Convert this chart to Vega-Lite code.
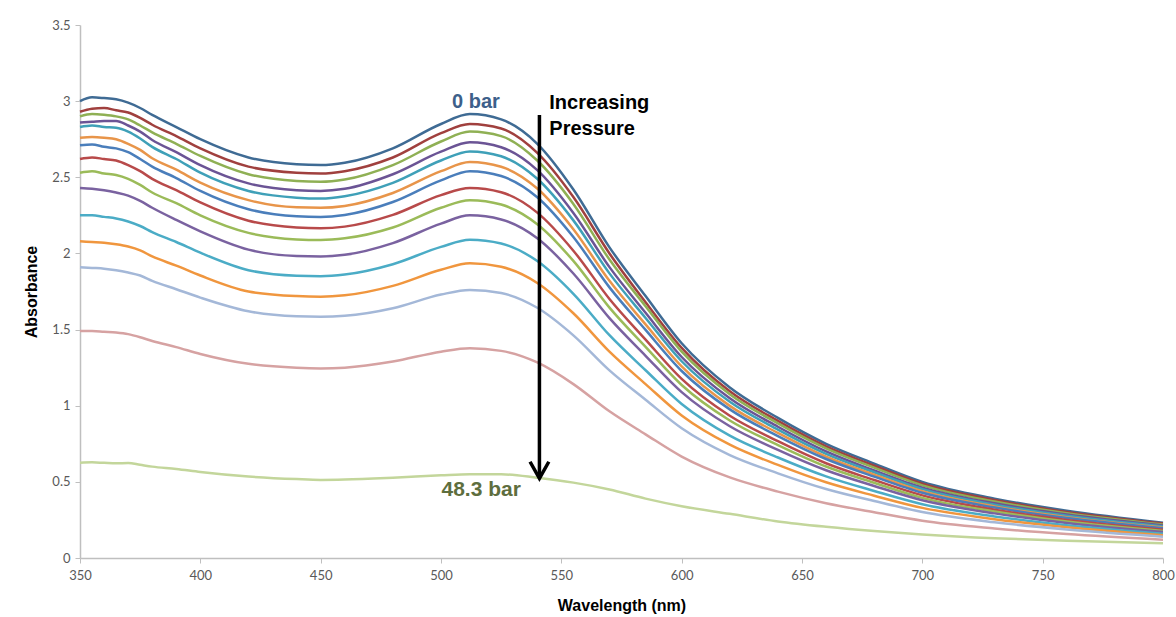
{
  "$schema": "https://vega.github.io/schema/vega-lite/v6.json",
  "autosize": "none",
  "width": 1083,
  "height": 533,
  "padding": {"left": 80, "top": 25, "right": 13, "bottom": 59},
  "background": "white",
  "config": {
    "view": {"stroke": null},
    "axis": {
      "grid": false,
      "labelFlush": false,
      "labelFont": "Lato",
      "labelFontSize": 13,
      "labelColor": "#595959",
      "domainColor": "#BFBFBF",
      "domainWidth": 1.5,
      "tickColor": "#BFBFBF",
      "tickSize": 5,
      "titleFont": "Liberation Sans",
      "titleFontSize": 16,
      "titleFontWeight": "bold",
      "titleColor": "#000000"
    }
  },
  "datasets": {
    "spectra": [
      {"w":350,"c01":3.00,"c02":2.93,"c03":2.90,"c04":2.86,"c05":2.83,"c06":2.76,"c07":2.71,"c08":2.62,"c09":2.53,"c10":2.43,"c11":2.25,"c12":2.08,"c13":1.91,"c14":1.49,"c15":0.626},
      {"w":355,"c01":3.025,"c02":2.95,"c03":2.915,"c04":2.865,"c05":2.84,"c06":2.765,"c07":2.715,"c08":2.63,"c09":2.54,"c10":2.425,"c11":2.25,"c12":2.075,"c13":1.905,"c14":1.49,"c15":0.628},
      {"w":360,"c01":3.02,"c02":2.955,"c03":2.91,"c04":2.87,"c05":2.83,"c06":2.76,"c07":2.70,"c08":2.62,"c09":2.525,"c10":2.415,"c11":2.24,"c12":2.07,"c13":1.90,"c14":1.485,"c15":0.625},
      {"w":365,"c01":3.012,"c02":2.94,"c03":2.90,"c04":2.87,"c05":2.825,"c06":2.75,"c07":2.69,"c08":2.61,"c09":2.515,"c10":2.40,"c11":2.23,"c12":2.06,"c13":1.89,"c14":1.48,"c15":0.622},
      {"w":370,"c01":2.99,"c02":2.925,"c03":2.88,"c04":2.84,"c05":2.80,"c06":2.72,"c07":2.665,"c08":2.58,"c09":2.49,"c10":2.38,"c11":2.21,"c12":2.045,"c13":1.875,"c14":1.47,"c15":0.624},
      {"w":375,"c01":2.955,"c02":2.89,"c03":2.84,"c04":2.80,"c05":2.755,"c06":2.68,"c07":2.62,"c08":2.54,"c09":2.45,"c10":2.345,"c11":2.18,"c12":2.02,"c13":1.855,"c14":1.45,"c15":0.612},
      {"w":380,"c01":2.91,"c02":2.845,"c03":2.795,"c04":2.745,"c05":2.70,"c06":2.625,"c07":2.57,"c08":2.49,"c09":2.40,"c10":2.30,"c11":2.14,"c12":1.98,"c13":1.82,"c14":1.425,"c15":0.60},
      {"w":390,"c01":2.83,"c02":2.77,"c03":2.72,"c04":2.665,"c05":2.62,"c06":2.55,"c07":2.495,"c08":2.415,"c09":2.33,"c10":2.22,"c11":2.075,"c12":1.92,"c13":1.765,"c14":1.385,"c15":0.585},
      {"w":400,"c01":2.75,"c02":2.69,"c03":2.64,"c04":2.58,"c05":2.53,"c06":2.465,"c07":2.41,"c08":2.335,"c09":2.25,"c10":2.145,"c11":2.005,"c12":1.855,"c13":1.71,"c14":1.34,"c15":0.565},
      {"w":420,"c01":2.63,"c02":2.57,"c03":2.52,"c04":2.46,"c05":2.41,"c06":2.35,"c07":2.29,"c08":2.215,"c09":2.135,"c10":2.025,"c11":1.89,"c12":1.75,"c13":1.62,"c14":1.275,"c15":0.535},
      {"w":440,"c01":2.585,"c02":2.53,"c03":2.475,"c04":2.415,"c05":2.366,"c06":2.303,"c07":2.244,"c08":2.17,"c09":2.092,"c10":1.983,"c11":1.853,"c12":1.72,"c13":1.587,"c14":1.249,"c15":0.518},
      {"w":450,"c01":2.58,"c02":2.525,"c03":2.47,"c04":2.41,"c05":2.36,"c06":2.30,"c07":2.24,"c08":2.165,"c09":2.088,"c10":1.98,"c11":1.85,"c12":1.716,"c13":1.584,"c14":1.245,"c15":0.513},
      {"w":460,"c01":2.595,"c02":2.54,"c03":2.485,"c04":2.424,"c05":2.375,"c06":2.312,"c07":2.253,"c08":2.176,"c09":2.099,"c10":1.991,"c11":1.861,"c12":1.725,"c13":1.59,"c14":1.25,"c15":0.515},
      {"w":480,"c01":2.69,"c02":2.63,"c03":2.58,"c04":2.52,"c05":2.463,"c06":2.397,"c07":2.338,"c08":2.253,"c09":2.17,"c10":2.068,"c11":1.929,"c12":1.787,"c13":1.64,"c14":1.29,"c15":0.527},
      {"w":500,"c01":2.85,"c02":2.79,"c03":2.735,"c04":2.668,"c05":2.61,"c06":2.54,"c07":2.48,"c08":2.383,"c09":2.30,"c10":2.196,"c11":2.043,"c12":1.893,"c13":1.73,"c14":1.355,"c15":0.543},
      {"w":512,"c01":2.915,"c02":2.85,"c03":2.80,"c04":2.73,"c05":2.67,"c06":2.60,"c07":2.54,"c08":2.43,"c09":2.35,"c10":2.25,"c11":2.09,"c12":1.935,"c13":1.76,"c14":1.377,"c15":0.55},
      {"w":525,"c01":2.88,"c02":2.82,"c03":2.77,"c04":2.697,"c05":2.638,"c06":2.569,"c07":2.508,"c08":2.402,"c09":2.321,"c10":2.223,"c11":2.065,"c12":1.912,"c13":1.74,"c14":1.36,"c15":0.55},
      {"w":540,"c01":2.72,"c02":2.66,"c03":2.61,"c04":2.547,"c05":2.49,"c06":2.426,"c07":2.369,"c08":2.268,"c09":2.192,"c10":2.10,"c11":1.95,"c12":1.806,"c13":1.643,"c14":1.284,"c15":0.527},
      {"w":555,"c01":2.42,"c02":2.37,"c03":2.325,"c04":2.266,"c05":2.217,"c06":2.159,"c07":2.108,"c08":2.018,"c09":1.951,"c10":1.868,"c11":1.735,"c12":1.607,"c13":1.462,"c14":1.142,"c15":0.495},
      {"w":570,"c01":2.04,"c02":2.00,"c03":1.96,"c04":1.91,"c05":1.869,"c06":1.82,"c07":1.777,"c08":1.701,"c09":1.644,"c10":1.575,"c11":1.463,"c12":1.355,"c13":1.232,"c14":0.963,"c15":0.45},
      {"w":585,"c01":1.72,"c02":1.68,"c03":1.653,"c04":1.61,"c05":1.576,"c06":1.534,"c07":1.498,"c08":1.434,"c09":1.386,"c10":1.328,"c11":1.233,"c12":1.142,"c13":1.039,"c14":0.812,"c15":0.39},
      {"w":600,"c01":1.41,"c02":1.38,"c03":1.355,"c04":1.32,"c05":1.292,"c06":1.258,"c07":1.228,"c08":1.176,"c09":1.136,"c10":1.089,"c11":1.011,"c12":0.936,"c13":0.852,"c14":0.666,"c15":0.34},
      {"w":620,"c01":1.12,"c02":1.095,"c03":1.076,"c04":1.049,"c05":1.026,"c06":0.999,"c07":0.976,"c08":0.934,"c09":0.903,"c10":0.865,"c11":0.803,"c12":0.744,"c13":0.676,"c14":0.529,"c15":0.29},
      {"w":640,"c01":0.92,"c02":0.90,"c03":0.884,"c04":0.862,"c05":0.843,"c06":0.821,"c07":0.801,"c08":0.767,"c09":0.742,"c10":0.71,"c11":0.66,"c12":0.611,"c13":0.556,"c14":0.436,"c15":0.24},
      {"w":660,"c01":0.75,"c02":0.733,"c03":0.72,"c04":0.70,"c05":0.684,"c06":0.665,"c07":0.65,"c08":0.622,"c09":0.601,"c10":0.576,"c11":0.536,"c12":0.497,"c13":0.453,"c14":0.36,"c15":0.205},
      {"w":680,"c01":0.62,"c02":0.606,"c03":0.593,"c04":0.575,"c05":0.563,"c06":0.547,"c07":0.534,"c08":0.512,"c09":0.494,"c10":0.473,"c11":0.44,"c12":0.409,"c13":0.374,"c14":0.301,"c15":0.177},
      {"w":700,"c01":0.50,"c02":0.488,"c03":0.477,"c04":0.462,"c05":0.452,"c06":0.438,"c07":0.428,"c08":0.411,"c09":0.395,"c10":0.379,"c11":0.353,"c12":0.329,"c13":0.302,"c14":0.245,"c15":0.155},
      {"w":730,"c01":0.39,"c02":0.381,"c03":0.371,"c04":0.359,"c05":0.35,"c06":0.339,"c07":0.331,"c08":0.317,"c09":0.305,"c10":0.293,"c11":0.273,"c12":0.255,"c13":0.235,"c14":0.194,"c15":0.13},
      {"w":760,"c01":0.31,"c02":0.302,"c03":0.294,"c04":0.285,"c05":0.277,"c06":0.268,"c07":0.262,"c08":0.25,"c09":0.24,"c10":0.23,"c11":0.215,"c12":0.202,"c13":0.187,"c14":0.157,"c15":0.113},
      {"w":800,"c01":0.232,"c02":0.226,"c03":0.22,"c04":0.213,"c05":0.207,"c06":0.20,"c07":0.195,"c08":0.186,"c09":0.178,"c10":0.17,"c11":0.16,"c12":0.15,"c13":0.14,"c14":0.12,"c15":0.097}
    ]
  },
  "layer": [
    {
      "data": {"name": "spectra"},
      "transform": [
        {"fold": ["c01","c02","c03","c04","c05","c06","c07","c08","c09","c10","c11","c12","c13","c14","c15"], "as": ["series","absorbance"]}
      ],
      "mark": {"type": "line", "strokeWidth": 2.5, "interpolate": "monotone"},
      "encoding": {
        "x": {"field": "w", "type": "quantitative", "title": "Wavelength (nm)",
              "scale": {"domain": [350, 800], "nice": false, "zero": false},
              "axis": {"values": [350,400,450,500,550,600,650,700,750,800], "labelPadding": 6, "titlePadding": 15}},
        "y": {"field": "absorbance", "type": "quantitative", "title": "Absorbance",
              "scale": {"domain": [0, 3.5], "nice": false},
              "axis": {"values": [0,0.5,1,1.5,2,2.5,3,3.5], "format": "~g", "labelPadding": 5, "titlePadding": 12}},
        "color": {"field": "series", "type": "nominal", "legend": null,
                  "scale": {"domain": ["c01","c02","c03","c04","c05","c06","c07","c08","c09","c10","c11","c12","c13","c14","c15"],
                            "range": ["#3F6B94","#A0403E","#8FB054","#6B5495","#3FA0B8","#E8954A","#4A7EBB","#B84A4A","#9BBB59","#7A62A0","#4BACC6","#F0963E","#A4B8D8","#D6A2A2","#C3D69B"]}}
      }
    },
    {
      "data": {"values": [{"w": 540.9, "top": 2.909, "bottom": 0.54}]},
      "mark": {"type": "rule", "color": "#000000", "strokeWidth": 3.5},
      "encoding": {
        "x": {"field": "w", "type": "quantitative", "title": "Wavelength (nm)"},
        "y": {"field": "top", "type": "quantitative", "title": "Absorbance"},
        "y2": {"field": "bottom"}
      }
    },
    {
      "data": {"values": [{"w": 537.0, "a": 0.632}, {"w": 540.9, "a": 0.523}, {"w": 544.8, "a": 0.632}]},
      "mark": {"type": "line", "color": "#000000", "strokeWidth": 3.5, "strokeJoin": "miter"},
      "encoding": {
        "x": {"field": "w", "type": "quantitative", "title": "Wavelength (nm)"},
        "y": {"field": "a", "type": "quantitative", "title": "Absorbance"}
      }
    },
    {
      "data": {"values": [{"w": 514.5, "a": 2.953, "t": "0 bar"}]},
      "mark": {"type": "text", "font": "Liberation Sans", "fontWeight": "bold", "fontSize": 20, "color": "#3D5F8A", "align": "center", "baseline": "alphabetic"},
      "encoding": {
        "x": {"field": "w", "type": "quantitative", "title": "Wavelength (nm)"},
        "y": {"field": "a", "type": "quantitative", "title": "Absorbance"},
        "text": {"field": "t"}
      }
    },
    {
      "data": {"values": [{"w": 545, "a": 2.948, "t": "Increasing"}, {"w": 545, "a": 2.777, "t": "Pressure"}]},
      "mark": {"type": "text", "font": "Liberation Sans", "fontWeight": "bold", "fontSize": 20, "color": "#000000", "align": "left", "baseline": "alphabetic"},
      "encoding": {
        "x": {"field": "w", "type": "quantitative", "title": "Wavelength (nm)"},
        "y": {"field": "a", "type": "quantitative", "title": "Absorbance"},
        "text": {"field": "t"}
      }
    },
    {
      "data": {"values": [{"w": 516.7, "a": 0.409, "t": "48.3 bar"}]},
      "mark": {"type": "text", "font": "Liberation Sans", "fontWeight": "bold", "fontSize": 21, "color": "#5E6E3E", "align": "center", "baseline": "alphabetic"},
      "encoding": {
        "x": {"field": "w", "type": "quantitative", "title": "Wavelength (nm)"},
        "y": {"field": "a", "type": "quantitative", "title": "Absorbance"},
        "text": {"field": "t"}
      }
    }
  ]
}
